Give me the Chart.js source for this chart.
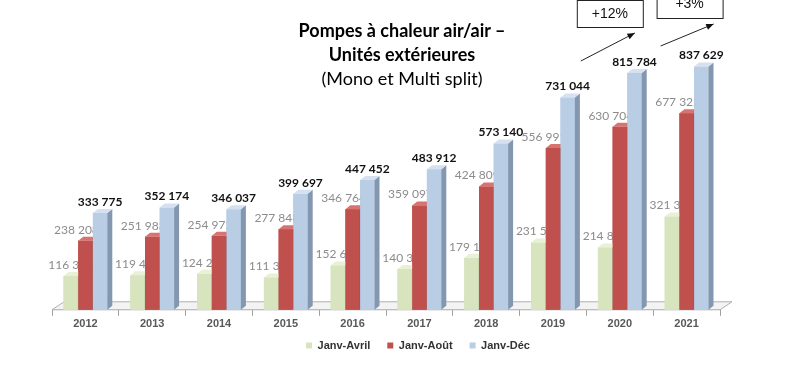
<!DOCTYPE html>
<html>
<head>
<meta charset="utf-8">
<script src="https://cdn.jsdelivr.net/npm/chart.js@4.4.1/dist/chart.umd.min.js"></script>
<style>
  body { margin: 0; background: #fff; }
  #wrap { position: relative; width: 800px; height: 390px; }
  #title {
    position: absolute; left: 282px; top: 18px; width: 240px;
    text-align: center; font-family: Lato, 'Open Sans', sans-serif;
    font-size: 18px; line-height: 24px; color: #000;
  }
  #title b { font-weight: bold; }
</style>
</head>
<body>
<div id="wrap">
  <canvas id="chart" width="800" height="390"></canvas>
  <div id="title"><b>Pompes à chaleur air/air –</b><br><b>Unités extérieures</b><br>(Mono et Multi split)</div>
</div>
<script>
var years = ['2012', '2013', '2014', '2015', '2016', '2017', '2018', '2019', '2020', '2021']
var janvAvril = [116338, 119433, 124211, 111366, 152611, 140335, 179133, 231530, 214823, 321334]
var janvAout  = [238208, 251983, 254972, 277848, 346764, 359097, 424809, 556991, 630704, 677322]
var janvDec   = [333775, 352174, 346037, 399697, 447452, 483912, 573140, 731044, 815784, 837629]
var growth    = ['+12%', '+3%']

var DX = 5, DY = -4

function fmt(v) {
  return String(v).replace(/\B(?=(\d{3})+(?!\d))/g, ' ')
}

// redraw bars left to right so each side face hides behind the next bar
var bar3d = {
  id: 'bar3d'
, afterLayout: function(chart) {
    // legend sits right of centre and close under the years in the original
    var lg = chart.legend
    lg.left += 32; lg.right += 32
    lg.top -= 10; lg.bottom -= 10
  }
, beforeDatasetsDraw: function(chart) {
    var a = chart.chartArea, ctx = chart.ctx
    ctx.save()
    ctx.beginPath()
    ctx.moveTo(a.left, a.bottom)
    ctx.lineTo(a.left + 12, a.bottom - 8)
    ctx.lineTo(a.right + 12, a.bottom - 8)
    ctx.lineTo(a.right, a.bottom)
    ctx.closePath()
    ctx.fillStyle = '#f3f3f3'
    ctx.fill()
    ctx.strokeStyle = '#b0b0b0'
    ctx.lineWidth = 1
    ctx.stroke()
    ctx.restore()
  }
, afterDatasetsDraw: function(chart) {
    var ctx = chart.ctx
    ctx.save()
    chart.data.datasets.forEach(function(ds, k) {
      chart.getDatasetMeta(k).data.forEach(function(bar, i) {
        var p = bar.getProps(['x', 'y', 'base', 'width'], true)
        var l = p.x - p.width / 2, r = p.x + p.width / 2
        ctx.fillStyle = ds.backgroundColor
        ctx.fillRect(l, p.y, p.width, p.base - p.y)
        ctx.beginPath()
        ctx.moveTo(r, p.y)
        ctx.lineTo(r + DX, p.y + DY)
        ctx.lineTo(r + DX, p.base + DY)
        ctx.lineTo(r, p.base)
        ctx.closePath()
        ctx.fillStyle = ds.sideColor
        ctx.fill()
        ctx.beginPath()
        ctx.moveTo(l, p.y)
        ctx.lineTo(l + DX, p.y + DY)
        ctx.lineTo(r + DX, p.y + DY)
        ctx.lineTo(r, p.y)
        ctx.closePath()
        ctx.fillStyle = ds.topColor
        ctx.fill()

        ctx.fillStyle = ds.labelColor
        ctx.font = ds.labelFont
        ctx.textAlign = 'center'
        ctx.textBaseline = 'middle'
        ctx.fillText(fmt(ds.data[i]), p.x + ds.labelShift, p.y - 11)
      })
    })
    ctx.restore()
  }
, afterDraw: function(chart) {
    var ctx = chart.ctx
    var x = chart.scales.x
    var boxes = [
      { cx: x.getPixelForValue(8) - 10, top: 0, bottom: 27, ty: 14, from: [-29, 61], to: [25, 33] }
    , { cx: x.getPixelForValue(9) + 3, top: -10, bottom: 18, ty: 4, from: [-29, 46], to: [24, 24] }
    ]
    ctx.save()
    boxes.forEach(function(b, i) {
      ctx.fillStyle = '#fff'
      ctx.strokeStyle = '#222'
      ctx.lineWidth = 1
      ctx.fillRect(b.cx - 33, b.top, 66, b.bottom - b.top)
      ctx.strokeRect(b.cx - 33 + 0.5, b.top + 0.5, 66, b.bottom - b.top)
      ctx.fillStyle = '#111'
      ctx.font = '14px "Liberation Sans", Arial, sans-serif'
      ctx.textAlign = 'center'
      ctx.textBaseline = 'middle'
      ctx.fillText(growth[i], b.cx, b.ty)

      var x0 = b.cx + b.from[0], y0 = b.from[1], x1 = b.cx + b.to[0], y1 = b.to[1]
      ctx.beginPath()
      ctx.moveTo(x0, y0)
      ctx.lineTo(x1, y1)
      ctx.stroke()
      var ang = Math.atan2(y1 - y0, x1 - x0)
      ctx.beginPath()
      ctx.moveTo(x1, y1)
      ctx.lineTo(x1 - 8 * Math.cos(ang - 0.4), y1 - 8 * Math.sin(ang - 0.4))
      ctx.lineTo(x1 - 8 * Math.cos(ang + 0.4), y1 - 8 * Math.sin(ang + 0.4))
      ctx.closePath()
      ctx.fillStyle = '#111'
      ctx.fill()
    })
    ctx.restore()
  }
}

function dataset(label, data, color, side, top, labelColor, labelFont, shift) {
  return {
    label: label
  , data: data
  , backgroundColor: color
  , sideColor: side
  , topColor: top
  , labelColor: labelColor
  , labelFont: labelFont
  , labelShift: shift
  , barPercentage: 0.98
  , categoryPercentage: 0.66
  }
}

var greyFont = '12px Lato, sans-serif'
var boldFont = 'bold 12px Lato, sans-serif'

new Chart(document.getElementById('chart'), {
  type: 'bar'
, data: {
    labels: years
  , datasets: [
      dataset('Janv-Avril', janvAvril, '#d7e4bd', '#a9b98f', '#e8f0d6', '#8c8c8c', greyFont, 0)
    , dataset('Janv-Août', janvAout, '#c0504d', '#8e2f2c', '#d77370', '#8c8c8c', greyFont, -9)
    , dataset('Janv-Déc', janvDec, '#b9cde5', '#8497b0', '#d5e1f0', '#111', boldFont, 0)
    ]
  }
, plugins: [bar3d]
, options: {
    responsive: false
  , animation: false
  , devicePixelRatio: 1
  , layout: { padding: { left: 52, right: 80, top: 34, bottom: 19 } }
  , plugins: {
      tooltip: { enabled: false }
    , legend: {
        position: 'bottom'
      , labels: {
          boxWidth: 6
        , boxHeight: 6
        , padding: 17
        , color: '#333'
        , font: { family: '"Liberation Sans", Arial, sans-serif', size: 11, weight: 'bold' }
        }
      }
    }
  , scales: {
      x: {
        grid: { display: true, drawOnChartArea: false, offset: true, tickLength: 6, color: '#a0a0a0' }
      , border: { color: '#a0a0a0' }
      , ticks: {
          color: '#595959'
        , padding: 2
        , font: { family: '"Liberation Sans", Arial, sans-serif', size: 11, weight: 'bold' }
        }
      }
    , y: { display: false, min: 0, max: 950000 }
    }
  }
})
</script>
</body>
</html>
